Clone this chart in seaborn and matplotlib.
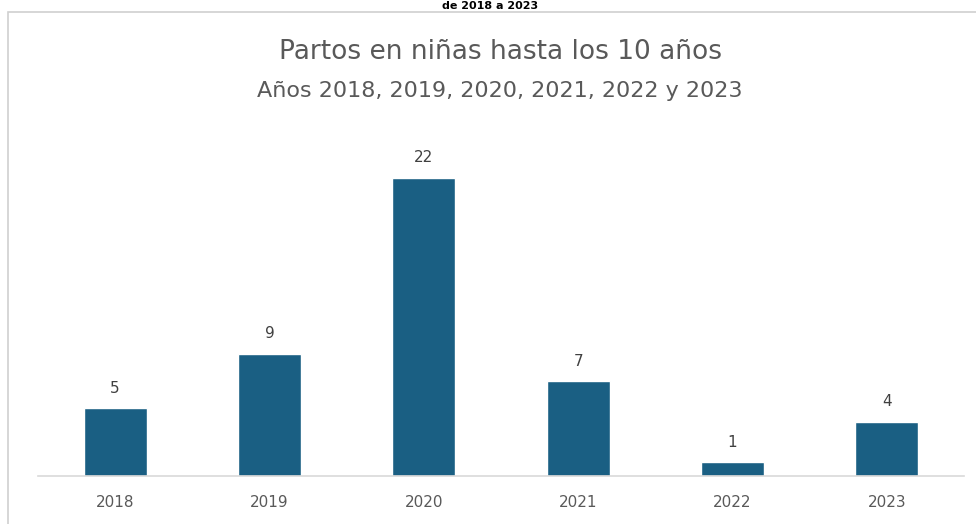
import numpy as np
import pandas as pd
import seaborn as sns
import matplotlib.pyplot as plt
from matplotlib.patches import Rectangle

# data
years = ["2018", "2019", "2020", "2021", "2022", "2023"]
partos = [5, 9, 22, 7, 1, 4]

TITLE = "Partos en niñas hasta los 10 años"
SUBTITLE = "Años 2018, 2019, 2020, 2021, 2022 y 2023"
CUT_TEXT = "de 2018 a 2023"

BAR_COLOR = "#1a5f83"
TEXT_GRAY = "#595959"


def build_frame() -> pd.DataFrame:
    return pd.DataFrame({"year": years, "partos": partos})


def make_chart(df: pd.DataFrame, name: str) -> None:
    sns.set_theme(style="white")
    plt.rcParams["font.family"] = ["DejaVu Sans"]

    fig = plt.figure(figsize=(9.76, 5.24), dpi=100)
    ax = fig.add_axes([38 / 976, 48 / 524, (964 - 38) / 976, (476 - 137) / 524])

    sns.barplot(data=df, x="year", y="partos", color=BAR_COLOR, width=0.41,
                saturation=1, ax=ax)

    ax.set_xlim(-0.5, 5.5)
    ax.set_ylim(0, 25)
    ax.set(xlabel="", ylabel="", yticks=[])
    sns.despine(ax=ax, left=True)
    ax.spines["bottom"].set_color("#d9d9d9")
    ax.spines["bottom"].set_linewidth(1.2)
    ax.tick_params(axis="x", length=0, pad=14, labelsize=11,
                   labelcolor=TEXT_GRAY)

    for cont in ax.containers:
        ax.bar_label(cont, padding=9, fontsize=11, color="#404040")

    # chart frame and titles
    fig.patches.append(Rectangle((8 / 976, -0.1), 1.2, (524 - 12) / 524 + 0.1,
                                 transform=fig.transFigure, fill=False,
                                 edgecolor="#d0d0d0", linewidth=1.2))
    fig.text(501 / 976, 1 - 52 / 524, TITLE, ha="center", va="center",
             fontsize=19, color=TEXT_GRAY)
    fig.text(500 / 976, 1 - 91 / 524, SUBTITLE, ha="center", va="center",
             fontsize=16, color=TEXT_GRAY)
    fig.text(490 / 976, 1 - 1 / 524, CUT_TEXT, ha="center", va="top",
             fontsize=8, fontweight="bold", color="#000000")

    fig.savefig(name, dpi=100)


def run():
    df = build_frame()
    make_chart(df, "out.png")


if __name__ == "__main__":
    run()
